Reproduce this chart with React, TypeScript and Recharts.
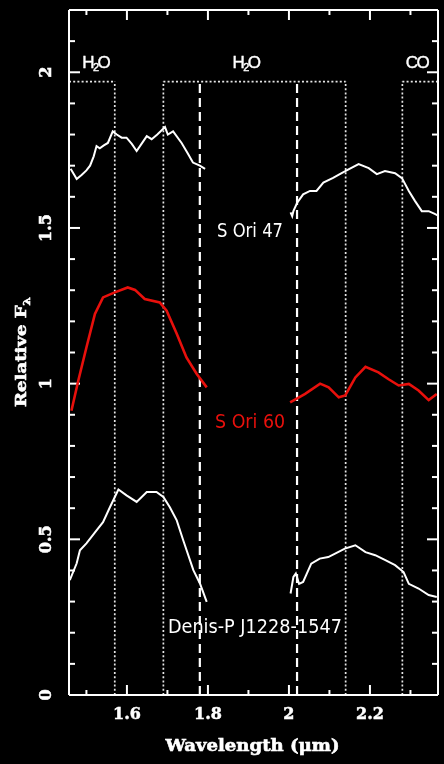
import { LineChart, Line, XAxis, YAxis, ReferenceLine, ReferenceDot } from "recharts";

const X_DOMAIN = [1.457, 2.368];
const Y_DOMAIN = [0, 2.2];
const X_TICKS = [1.5, 1.6, 1.7, 1.8, 1.9, 2, 2.1, 2.2, 2.3];
const X_LABELS = [1.6, 1.8, 2, 2.2];
const Y_TICKS = [0.1, 0.2, 0.3, 0.4, 0.5, 0.6, 0.7, 0.8, 0.9, 1, 1.1, 1.2, 1.3, 1.4, 1.5, 1.6, 1.7, 1.8, 1.9, 2, 2.1];
const Y_LABELS = [0, 0.5, 1, 1.5, 2];

// spectra: [wavelength µm, relative flux]
const SORI47_H = [
  [1.461, 1.69], [1.468, 1.675], [1.476, 1.657], [1.488, 1.67], [1.5, 1.685], [1.509, 1.7], [1.518, 1.73],
  [1.525, 1.763], [1.533, 1.756], [1.543, 1.765], [1.553, 1.773], [1.565, 1.81], [1.575, 1.8], [1.587, 1.79],
  [1.599, 1.79], [1.612, 1.77], [1.624, 1.747], [1.636, 1.77], [1.649, 1.795], [1.661, 1.785], [1.675, 1.8],
  [1.694, 1.824], [1.701, 1.8], [1.714, 1.81], [1.735, 1.773], [1.75, 1.74], [1.763, 1.71], [1.78, 1.7], [1.793, 1.69],
];
const SORI47_K = [
  [2.004, 1.55], [2.008, 1.538], [2.011, 1.554], [2.02, 1.58], [2.035, 1.608], [2.052, 1.619], [2.068, 1.619],
  [2.085, 1.646], [2.109, 1.661], [2.13, 1.676], [2.146, 1.687], [2.172, 1.705], [2.197, 1.692], [2.217, 1.673],
  [2.237, 1.683], [2.262, 1.676], [2.279, 1.66], [2.296, 1.619], [2.311, 1.587], [2.328, 1.554], [2.345, 1.554],
  [2.36, 1.545], [2.368, 1.54],
];
const SORI60_H = [
  [1.463, 0.913], [1.48, 1.01], [1.5, 1.116], [1.521, 1.224], [1.541, 1.277], [1.57, 1.293], [1.602, 1.309],
  [1.62, 1.301], [1.644, 1.272], [1.681, 1.261], [1.698, 1.234], [1.723, 1.16], [1.747, 1.084], [1.772, 1.032], [1.797, 0.988],
];
const SORI60_K = [
  [2.003, 0.94], [2.04, 0.967], [2.077, 1.0], [2.098, 0.988], [2.123, 0.956], [2.139, 0.962], [2.164, 1.02],
  [2.189, 1.054], [2.221, 1.036], [2.246, 1.014], [2.271, 0.994], [2.296, 0.999], [2.32, 0.978], [2.345, 0.947], [2.365, 0.967],
];
const DENIS_H = [
  [1.459, 0.369], [1.476, 0.423], [1.484, 0.465], [1.5, 0.487], [1.525, 0.529], [1.541, 0.555], [1.558, 0.603],
  [1.579, 0.66], [1.599, 0.641], [1.624, 0.62], [1.649, 0.652], [1.673, 0.652], [1.69, 0.636], [1.706, 0.603],
  [1.723, 0.561], [1.739, 0.497], [1.764, 0.401], [1.78, 0.359], [1.797, 0.299],
];
const DENIS_K = [
  [2.004, 0.326], [2.011, 0.379], [2.017, 0.39], [2.025, 0.357], [2.035, 0.363], [2.055, 0.422], [2.076, 0.438],
  [2.097, 0.443], [2.114, 0.454], [2.138, 0.47], [2.164, 0.481], [2.189, 0.459], [2.213, 0.449], [2.238, 0.433],
  [2.262, 0.417], [2.283, 0.395], [2.296, 0.357], [2.32, 0.342], [2.345, 0.321], [2.365, 0.315],
];

// band markers
const DOTTED_X = [1.57, 1.69, 2.14, 2.28];
const DASHED_X = [1.78, 2.02];
const BAND_Y = 1.97;
const BAND_SEGMENTS = [[1.457, 1.57], [1.69, 2.14], [2.28, 2.368]];
const BANDS = [
  { x: 1.523, y: 2.032, mol: ["H", "2", "O"] },
  { x: 1.894, y: 2.032, mol: ["H", "2", "O"] },
  { x: 2.316, y: 2.032, mol: ["CO", "", ""] },
];
const STARS = [
  { name: "S Ori 47", x: 1.904, y: 1.492, color: "#ffffff", width: 66 },
  { name: "S Ori 60", x: 1.904, y: 0.881, color: "#e8100c", width: 70 },
  { name: "Denis-P J1228-1547", x: 1.916, y: 0.221, color: "#ffffff", width: 174 },
];

const toPts = (arr: number[][]) => arr.map(([x, y]) => ({ x, y }));
const SERIES = [
  { id: "s47h", data: SORI47_H, color: "#ffffff" },
  { id: "s47k", data: SORI47_K, color: "#ffffff" },
  { id: "s60h", data: SORI60_H, color: "#e8100c" },
  { id: "s60k", data: SORI60_K, color: "#e8100c" },
  { id: "dh", data: DENIS_H, color: "#ffffff" },
  { id: "dk", data: DENIS_K, color: "#ffffff" },
];

const AXIS_FONT = "'DejaVu Serif', 'Liberation Serif', serif";
const LABEL_FONT = "'Liberation Sans Narrow', 'DejaVu Sans Condensed', 'Liberation Sans', sans-serif";
const WHITE_LINE = { stroke: "#fff", strokeWidth: 2 };

// inward tick lengths (px) turned into data units using the 369 x 685 px frame
const PLOT_W = 369, PLOT_H = 685;
const xLen = (px: number) => (px * (X_DOMAIN[1] - X_DOMAIN[0])) / PLOT_W;
const yLen = (px: number) => (px * (Y_DOMAIN[1] - Y_DOMAIN[0])) / PLOT_H;

function BottomLabel({ x, y, payload }: any) {
  return (
    <text x={x} y={y} textAnchor="middle" fill="#fff" stroke="#fff" strokeWidth={0.5}
      fontFamily={AXIS_FONT} fontWeight="bold" fontSize={16}>{String(payload.value)}</text>
  );
}

function LeftLabel({ x, y, payload }: any) {
  return (
    <text transform={`translate(${x},${y}) rotate(-90)`} textAnchor="middle" dominantBaseline="central"
      fill="#fff" stroke="#fff" strokeWidth={0.5} fontFamily={AXIS_FONT} fontWeight="bold" fontSize={16}>
      {String(payload.value)}
    </text>
  );
}

export default function App() {
  const tickStyle = { stroke: "#fff", strokeWidth: 2 };
  return (
    <div style={{ position: "absolute", top: 0, left: 0, width: 444, height: 764, background: "#000", filter: "blur(0.35px)" }}>
      <LineChart width={444} height={764} margin={{ top: 0, right: 0, bottom: 0, left: 0 }}>
        <XAxis dataKey="x" type="number" domain={X_DOMAIN} ticks={X_LABELS} interval={0} allowDataOverflow
          height={69} tickSize={0} tickMargin={24} tickLine={false} axisLine={WHITE_LINE}
          tick={<BottomLabel />}
          label={({ viewBox }: any) => (
            <text x={viewBox.x + viewBox.width / 2 - 1} y={viewBox.y + 56} textAnchor="middle" fill="#fff" stroke="#fff"
              strokeWidth={0.6} fontFamily={AXIS_FONT} fontWeight="bold" fontSize={17}
              textLength={174} lengthAdjust="spacingAndGlyphs">Wavelength (μm)</text>
          )} />
        <XAxis xAxisId="top" orientation="top" type="number" domain={X_DOMAIN} ticks={X_LABELS} interval={0}
          allowDataOverflow height={10} tick={false} tickLine={false} axisLine={WHITE_LINE} />
        <YAxis type="number" domain={Y_DOMAIN} ticks={Y_LABELS} interval={0} allowDataOverflow width={69}
          tickSize={0} tickMargin={24} tickLine={false} axisLine={WHITE_LINE} tick={<LeftLabel />}
          label={({ viewBox }: any) => (
            <text transform={`translate(21,${viewBox.y + 342}) rotate(-90)`} textAnchor="middle" dominantBaseline="central"
              fill="#fff" stroke="#fff" strokeWidth={0.6} fontFamily={AXIS_FONT} fontWeight="bold" fontSize={15}
              textLength={110} lengthAdjust="spacingAndGlyphs">
              Relative F<tspan dy={5} fontSize={10}>λ</tspan>
            </text>
          )} />
        <YAxis yAxisId="right" orientation="right" type="number" domain={Y_DOMAIN} ticks={Y_LABELS} interval={0}
          allowDataOverflow width={6} tick={false} tickLine={false} axisLine={WHITE_LINE} />

        {/* inward tick marks on all four sides */}
        {Y_TICKS.map((v) => {
          const len = xLen(Y_LABELS.includes(v) ? 11 : 6);
          return [
            <ReferenceLine key={"yl" + v} segment={[{ x: X_DOMAIN[0], y: v }, { x: X_DOMAIN[0] + len, y: v }]} {...tickStyle} />,
            <ReferenceLine key={"yr" + v} segment={[{ x: X_DOMAIN[1] - len, y: v }, { x: X_DOMAIN[1], y: v }]} {...tickStyle} />,
          ];
        })}
        {X_TICKS.map((v) => {
          const len = yLen(X_LABELS.includes(v) ? 10 : 5);
          return [
            <ReferenceLine key={"xb" + v} segment={[{ x: v, y: Y_DOMAIN[0] }, { x: v, y: Y_DOMAIN[0] + len }]} {...tickStyle} />,
            <ReferenceLine key={"xt" + v} segment={[{ x: v, y: Y_DOMAIN[1] - len }, { x: v, y: Y_DOMAIN[1] }]} {...tickStyle} />,
          ];
        })}

        {BAND_SEGMENTS.map(([a, b], i) => (
          <ReferenceLine key={"hb" + i} segment={[{ x: a, y: BAND_Y }, { x: b, y: BAND_Y }]}
            stroke="#e6e6e6" strokeWidth={1.7} strokeDasharray="2 2.2" />
        ))}
        {DOTTED_X.map((v) => (
          <ReferenceLine key={"dt" + v} segment={[{ x: v, y: 0 }, { x: v, y: BAND_Y }]}
            stroke="#e6e6e6" strokeWidth={1.7} strokeDasharray="2 2.2" />
        ))}
        {DASHED_X.map((v) => (
          <ReferenceLine key={"ds" + v} segment={[{ x: v, y: 0 }, { x: v, y: BAND_Y }]}
            stroke="#ffffff" strokeWidth={2.2} strokeDasharray="9 5" />
        ))}

        {SERIES.map((s) => (
          <Line key={s.id} data={toPts(s.data)} dataKey="y" type="linear" stroke={s.color}
            strokeWidth={s.color === "#ffffff" ? 2 : 2.6} dot={false} isAnimationActive={false} />
        ))}

        {BANDS.map((b, i) => (
          <ReferenceDot key={"b" + i} x={b.x} y={b.y} r={0}
            shape={(p: any) => (
              <text x={p.cx} y={p.cy} textAnchor="middle" dominantBaseline="central" fill="#fff" stroke="#fff"
                strokeWidth={0.4} fontFamily="'Liberation Sans', sans-serif" fontSize={17} letterSpacing={-1.5}>
                {b.mol[0]}
                {b.mol[1] && <tspan dy={5} fontSize={11}>{b.mol[1]}</tspan>}
                {b.mol[2] && <tspan dy={-5}>{b.mol[2]}</tspan>}
              </text>
            )} />
        ))}
        {STARS.map((s) => (
          <ReferenceDot key={s.name} x={s.x} y={s.y} r={0}
            shape={(p: any) => (
              <text x={p.cx} y={p.cy} textAnchor="middle" dominantBaseline="central" fill={s.color}
                fontFamily={LABEL_FONT} fontSize={20} textLength={s.width} lengthAdjust="spacingAndGlyphs">
                {s.name}
              </text>
            )} />
        ))}
      </LineChart>
    </div>
  );
}
